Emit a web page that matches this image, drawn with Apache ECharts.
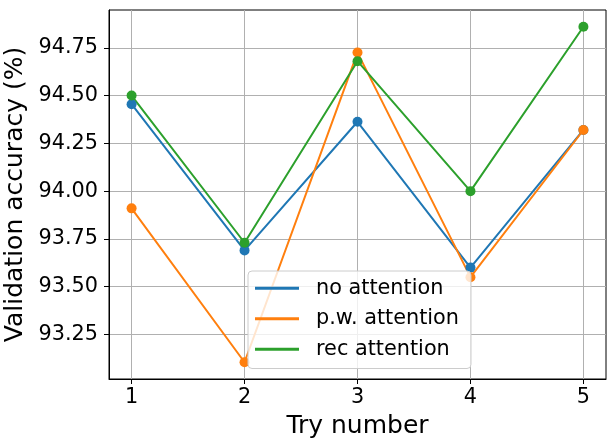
<!DOCTYPE html>
<html>
<head>
<meta charset="utf-8">
<script src="https://cdn.jsdelivr.net/npm/echarts@6/dist/echarts.min.js"></script>
<style>html,body{margin:0;padding:0;background:#fff}#c{width:614px;height:448px}</style>
</head>
<body>
<div id="c"></div>
<script>
const tries = [1, 2, 3, 4, 5];
const noAttention = [94.455, 93.69, 94.363, 93.60, 94.32];
const pwAttention = [93.91, 93.105, 94.725, 93.55, 94.32];
const recAttention = [94.50, 93.73, 94.68, 94.00, 94.86];
const seriesNames = ['no attention', 'p.w. attention', 'rec attention'];
const yTicks = [93.25, 93.5, 93.75, 94.0, 94.25, 94.5, 94.75];
const colors = ['#1f77b4', '#ff7f0e', '#2ca02c'];

const allVals = noAttention.concat(pwAttention, recAttention);
const yMinD = Math.min(...allVals), yMaxD = Math.max(...allVals);
const yPad = (yMaxD - yMinD) * 0.05;
const xPad = (tries[tries.length - 1] - tries[0]) * 0.05;

const font = 'DejaVu Sans';
const chart = echarts.init(document.getElementById('c'), null, {renderer: 'canvas'});
const mk = (name, vals, color) => ({
  name: name,
  type: 'line',
  data: tries.map((t, i) => [t, vals[i]]),
  symbol: 'circle',
  symbolSize: 10,
  showSymbol: true,
  lineStyle: {color: color, width: 2},
  itemStyle: {color: color},
  emphasis: {disabled: true},
  animation: false
});
chart.setOption({
  animation: false,
  color: colors,
  grid: {left: 109, right: 8, top: 10, bottom: 69, containLabel: false, outerBoundsMode: 'none', show: true, borderColor: '#000', borderWidth: 1, backgroundColor: 'transparent'},
  xAxis: {
    type: 'value',
    min: tries[0] - xPad,
    max: tries[tries.length - 1] + xPad,
    name: 'Try number',
    nameLocation: 'middle',
    nameGap: 35,
    nameTextStyle: {fontFamily: font, fontSize: 25, color: '#000'},
    axisLine: {show: true, onZero: false, lineStyle: {color: '#000', width: 1}},
    axisTick: {show: true, length: 5, lineStyle: {color: '#000'}, customValues: tries},
    axisLabel: {fontFamily: font, fontSize: 20.8, color: '#000', margin: 8, customValues: tries, formatter: v => String(v)},
    splitLine: {show: true, lineStyle: {color: '#b0b0b0', width: 1}}
  },
  yAxis: {
    type: 'value',
    min: yMinD - yPad,
    max: yMaxD + yPad,
    name: 'Validation accuracy (%)',
    nameLocation: 'middle',
    nameGap: 76,
    nameTextStyle: {fontFamily: font, fontSize: 25, color: '#000'},
    axisLine: {show: true, onZero: false, lineStyle: {color: '#000', width: 1}},
    axisTick: {show: true, length: 5, lineStyle: {color: '#000'}, customValues: yTicks},
    axisLabel: {fontFamily: font, fontSize: 20.8, color: '#000', margin: 11, customValues: yTicks, formatter: v => v.toFixed(2)},
    splitLine: {show: true, lineStyle: {color: '#b0b0b0', width: 1}}
  },
  legend: {
    orient: 'vertical',
    left: 248,
    top: 271,
    padding: [5, 12, 7, 7],
    itemGap: 6,
    itemWidth: 44,
    itemHeight: 3,
    backgroundColor: 'rgba(255,255,255,0.8)',
    borderColor: '#cccccc',
    borderWidth: 1,
    borderRadius: 4,
    textStyle: {fontFamily: font, fontSize: 20.8, color: '#000', lineHeight: 24.5, padding: [0, 0, 0, 12]},
    data: seriesNames.map(n => ({name: n, icon: 'rect'}))
  },
  series: [
    mk(seriesNames[0], noAttention, colors[0]),
    mk(seriesNames[1], pwAttention, colors[1]),
    mk(seriesNames[2], recAttention, colors[2])
  ]
});
</script>
</body>
</html>
